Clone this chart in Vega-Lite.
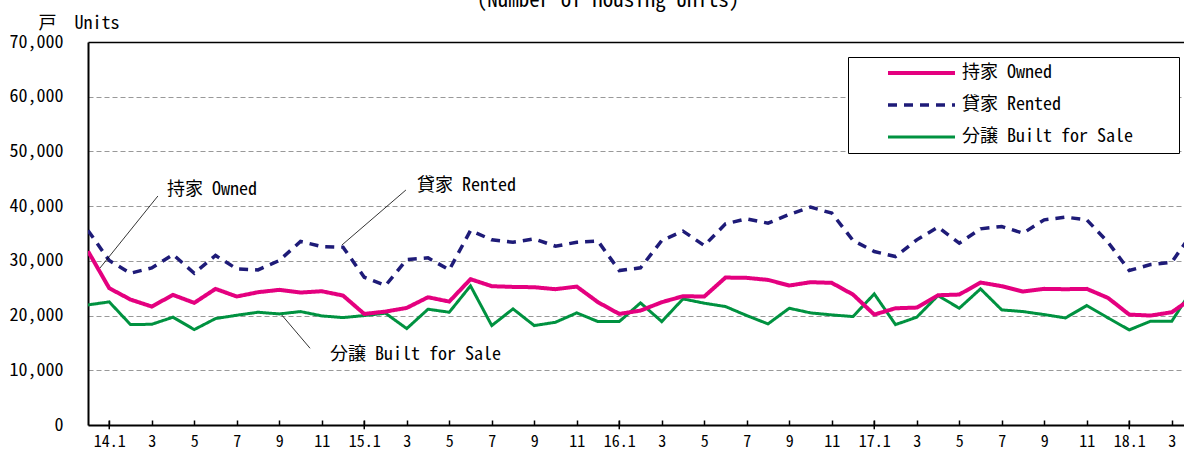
{
  "$schema": "https://vega.github.io/schema/vega-lite/v6.json",
  "width": 1096,
  "height": 383,
  "autosize": {"type": "none"},
  "padding": {"left": 88, "top": 42, "right": 0, "bottom": 25},
  "background": "white",
  "title": {"text": "(Number of Housing Units)", "frame": "group", "anchor": "middle", "offset": 0, "baseline": "alphabetic", "dx": -28, "dy": 14, "fontSize": 21, "fontWeight": 400, "color": "black", "font": "'Noto Sans Mono CJK JP', 'DejaVu Sans Mono', 'Noto Sans CJK JP', monospace"},
  "config": {
    "view": {"stroke": null},
    "font": "'Noto Sans Mono CJK JP', 'DejaVu Sans Mono', 'Noto Sans CJK JP', monospace"
  },
  "layer": [
    {
      "data": {"values": [
        {"i":0,"type":"分譲 Built for Sale","v":21950},{"i":1,"type":"分譲 Built for Sale","v":22500},{"i":2,"type":"分譲 Built for Sale","v":18350},{"i":3,"type":"分譲 Built for Sale","v":18410},{"i":4,"type":"分譲 Built for Sale","v":19700},{"i":5,"type":"分譲 Built for Sale","v":17440},{"i":6,"type":"分譲 Built for Sale","v":19450},{"i":7,"type":"分譲 Built for Sale","v":20060},{"i":8,"type":"分譲 Built for Sale","v":20610},{"i":9,"type":"分譲 Built for Sale","v":20300},{"i":10,"type":"分譲 Built for Sale","v":20730},{"i":11,"type":"分譲 Built for Sale","v":19940},{"i":12,"type":"分譲 Built for Sale","v":19630},{"i":13,"type":"分譲 Built for Sale","v":20000},{"i":14,"type":"分譲 Built for Sale","v":20430},{"i":15,"type":"分譲 Built for Sale","v":17620},{"i":16,"type":"分譲 Built for Sale","v":21160},{"i":17,"type":"分譲 Built for Sale","v":20610},{"i":18,"type":"分譲 Built for Sale","v":25430},{"i":19,"type":"分譲 Built for Sale","v":18170},{"i":20,"type":"分譲 Built for Sale","v":21220},{"i":21,"type":"分譲 Built for Sale","v":18170},{"i":22,"type":"分譲 Built for Sale","v":18780},{"i":23,"type":"分譲 Built for Sale","v":20490},{"i":24,"type":"分譲 Built for Sale","v":18900},{"i":25,"type":"分譲 Built for Sale","v":18900},{"i":26,"type":"分譲 Built for Sale","v":22320},{"i":27,"type":"分譲 Built for Sale","v":18900},{"i":28,"type":"分譲 Built for Sale","v":23050},{"i":29,"type":"分譲 Built for Sale","v":22260},{"i":30,"type":"分譲 Built for Sale","v":21650},{"i":31,"type":"分譲 Built for Sale","v":20000},{"i":32,"type":"分譲 Built for Sale","v":18480},{"i":33,"type":"分譲 Built for Sale","v":21340},{"i":34,"type":"分譲 Built for Sale","v":20490},{"i":35,"type":"分譲 Built for Sale","v":20120},{"i":36,"type":"分譲 Built for Sale","v":19820},{"i":37,"type":"分譲 Built for Sale","v":23960},{"i":38,"type":"分譲 Built for Sale","v":18350},{"i":39,"type":"分譲 Built for Sale","v":19700},{"i":40,"type":"分譲 Built for Sale","v":23660},{"i":41,"type":"分譲 Built for Sale","v":21340},{"i":42,"type":"分譲 Built for Sale","v":24880},{"i":43,"type":"分譲 Built for Sale","v":21040},{"i":44,"type":"分譲 Built for Sale","v":20730},{"i":45,"type":"分譲 Built for Sale","v":20180},{"i":46,"type":"分譲 Built for Sale","v":19570},{"i":47,"type":"分譲 Built for Sale","v":21830},{"i":48,"type":"分譲 Built for Sale","v":19570},{"i":49,"type":"分譲 Built for Sale","v":17380},{"i":50,"type":"分譲 Built for Sale","v":18960},{"i":51,"type":"分譲 Built for Sale","v":18960},{"i":52,"type":"分譲 Built for Sale","v":25000},
        {"i":0,"type":"貸家 Rented","v":35550},{"i":1,"type":"貸家 Rented","v":30060},{"i":2,"type":"貸家 Rented","v":27740},{"i":3,"type":"貸家 Rented","v":28720},{"i":4,"type":"貸家 Rented","v":31160},{"i":5,"type":"貸家 Rented","v":27740},{"i":6,"type":"貸家 Rented","v":30980},{"i":7,"type":"貸家 Rented","v":28540},{"i":8,"type":"貸家 Rented","v":28350},{"i":9,"type":"貸家 Rented","v":30060},{"i":10,"type":"貸家 Rented","v":33540},{"i":11,"type":"貸家 Rented","v":32620},{"i":12,"type":"貸家 Rented","v":32500},{"i":13,"type":"貸家 Rented","v":27010},{"i":14,"type":"貸家 Rented","v":25490},{"i":15,"type":"貸家 Rented","v":30240},{"i":16,"type":"貸家 Rented","v":30550},{"i":17,"type":"貸家 Rented","v":28350},{"i":18,"type":"貸家 Rented","v":35550},{"i":19,"type":"貸家 Rented","v":33840},{"i":20,"type":"貸家 Rented","v":33410},{"i":21,"type":"貸家 Rented","v":34020},{"i":22,"type":"貸家 Rented","v":32680},{"i":23,"type":"貸家 Rented","v":33410},{"i":24,"type":"貸家 Rented","v":33600},{"i":25,"type":"貸家 Rented","v":28230},{"i":26,"type":"貸家 Rented","v":28720},{"i":27,"type":"貸家 Rented","v":33720},{"i":28,"type":"貸家 Rented","v":35430},{"i":29,"type":"貸家 Rented","v":32800},{"i":30,"type":"貸家 Rented","v":36770},{"i":31,"type":"貸家 Rented","v":37680},{"i":32,"type":"貸家 Rented","v":36890},{"i":33,"type":"貸家 Rented","v":38480},{"i":34,"type":"貸家 Rented","v":39820},{"i":35,"type":"貸家 Rented","v":38720},{"i":36,"type":"貸家 Rented","v":33720},{"i":37,"type":"貸家 Rented","v":31710},{"i":38,"type":"貸家 Rented","v":30790},{"i":39,"type":"貸家 Rented","v":33840},{"i":40,"type":"貸家 Rented","v":36160},{"i":41,"type":"貸家 Rented","v":33230},{"i":42,"type":"貸家 Rented","v":35850},{"i":43,"type":"貸家 Rented","v":36280},{"i":44,"type":"貸家 Rented","v":35060},{"i":45,"type":"貸家 Rented","v":37500},{"i":46,"type":"貸家 Rented","v":37990},{"i":47,"type":"貸家 Rented","v":37500},{"i":48,"type":"貸家 Rented","v":33410},{"i":49,"type":"貸家 Rented","v":28230},{"i":50,"type":"貸家 Rented","v":29330},{"i":51,"type":"貸家 Rented","v":29760},{"i":52,"type":"貸家 Rented","v":35300},
        {"i":0,"type":"持家 Owned","v":31770},{"i":1,"type":"持家 Owned","v":25000},{"i":2,"type":"持家 Owned","v":22930},{"i":3,"type":"持家 Owned","v":21650},{"i":4,"type":"持家 Owned","v":23780},{"i":5,"type":"持家 Owned","v":22320},{"i":6,"type":"持家 Owned","v":24880},{"i":7,"type":"持家 Owned","v":23480},{"i":8,"type":"持家 Owned","v":24270},{"i":9,"type":"持家 Owned","v":24700},{"i":10,"type":"持家 Owned","v":24210},{"i":11,"type":"持家 Owned","v":24450},{"i":12,"type":"持家 Owned","v":23660},{"i":13,"type":"持家 Owned","v":20300},{"i":14,"type":"持家 Owned","v":20730},{"i":15,"type":"持家 Owned","v":21400},{"i":16,"type":"持家 Owned","v":23350},{"i":17,"type":"持家 Owned","v":22560},{"i":18,"type":"持家 Owned","v":26650},{"i":19,"type":"持家 Owned","v":25370},{"i":20,"type":"持家 Owned","v":25240},{"i":21,"type":"持家 Owned","v":25180},{"i":22,"type":"持家 Owned","v":24820},{"i":23,"type":"持家 Owned","v":25300},{"i":24,"type":"持家 Owned","v":22440},{"i":25,"type":"持家 Owned","v":20300},{"i":26,"type":"持家 Owned","v":20910},{"i":27,"type":"持家 Owned","v":22440},{"i":28,"type":"持家 Owned","v":23540},{"i":29,"type":"持家 Owned","v":23480},{"i":30,"type":"持家 Owned","v":26950},{"i":31,"type":"持家 Owned","v":26890},{"i":32,"type":"持家 Owned","v":26520},{"i":33,"type":"持家 Owned","v":25490},{"i":34,"type":"持家 Owned","v":26100},{"i":35,"type":"持家 Owned","v":25980},{"i":36,"type":"持家 Owned","v":23840},{"i":37,"type":"持家 Owned","v":20180},{"i":38,"type":"持家 Owned","v":21340},{"i":39,"type":"持家 Owned","v":21460},{"i":40,"type":"持家 Owned","v":23720},{"i":41,"type":"持家 Owned","v":23840},{"i":42,"type":"持家 Owned","v":26040},{"i":43,"type":"持家 Owned","v":25370},{"i":44,"type":"持家 Owned","v":24390},{"i":45,"type":"持家 Owned","v":24880},{"i":46,"type":"持家 Owned","v":24820},{"i":47,"type":"持家 Owned","v":24880},{"i":48,"type":"持家 Owned","v":23230},{"i":49,"type":"持家 Owned","v":20180},{"i":50,"type":"持家 Owned","v":20000},{"i":51,"type":"持家 Owned","v":20610},{"i":52,"type":"持家 Owned","v":23300}
      ]},
      "mark": {"type": "line", "clip": true},
      "encoding": {
        "x": {
          "field": "i", "type": "quantitative",
          "scale": {"domain": [0, 51.576], "nice": false, "zero": false},
          "axis": {
            "title": null, "grid": false,
            "values": [1,2,3,4,5,6,7,8,9,10,11,12,13,14,15,16,17,18,19,20,21,22,23,24,25,26,27,28,29,30,31,32,33,34,35,36,37,38,39,40,41,42,43,44,45,46,47,48,49,50,51],
            "labelExpr": "datum.value % 2 == 1 ? ((datum.value - 1) % 12 == 0 ? (14 + floor((datum.value - 1) / 12)) + '.1' : '' + ((datum.value - 1) % 12 + 1)) : ''",
            "tickSize": -5, "tickWidth": 1.5, "tickColor": "black",
            "domainColor": "black", "domainWidth": 2,
            "labelFontSize": 16, "labelColor": "black", "labelPadding": 13,
            "labelOverlap": false, "labelFlush": false, "labelBound": false
          }
        },
        "y": {
          "field": "v", "type": "quantitative",
          "scale": {"domain": [0, 70000], "nice": false},
          "axis": {
            "values": [0,10000,20000,30000,40000,50000,60000,70000],
            "labelExpr": "format(datum.value, ',d')",
            "ticks": false,
            "domainColor": "black", "domainWidth": 2,
            "labelFontSize": 18, "labelColor": "black", "labelPadding": 25,
            "grid": true,
            "gridColor": {"condition": {"test": "datum.value === 70000", "value": "black"}, "value": "#999999"},
            "gridDash": {"condition": {"test": "datum.value === 70000", "value": []}, "value": [5, 3]},
            "gridWidth": {"condition": {"test": "datum.value === 70000", "value": 1.6}, "value": 1},
            "title": "戸　Units", "titleAngle": 0, "titleAlign": "left", "titleBaseline": "alphabetic",
            "titleX": -50, "titleY": -14, "titleFontSize": 18, "titleFontWeight": "normal", "titleColor": "black"
          }
        },
        "color": {
          "field": "type", "type": "nominal",
          "scale": {"domain": ["持家 Owned", "貸家 Rented", "分譲 Built for Sale"], "range": ["#E4007F", "#1E1B78", "#009240"]},
          "legend": {"title": null, "orient": "none", "legendX": 760, "legendY": 15, "strokeColor": "black", "fillColor": "white", "padding": 7, "rowPadding": 14, "clipHeight": 18, "symbolType": "stroke", "symbolSize": 4489, "symbolOffset": 31, "labelOffset": 5, "labelFontSize": 18, "labelColor": "black", "labelLimit": 400, "labelExpr": "datum.label + '\u2800\u2800\u2800'"}
        },
        "strokeDash": {
          "field": "type", "type": "nominal",
          "scale": {"domain": ["持家 Owned", "貸家 Rented", "分譲 Built for Sale"], "range": [[1, 0], [9, 7], [1, 0]]},
          "legend": {"title": null, "orient": "none", "legendX": 760, "legendY": 15, "strokeColor": "black", "fillColor": "white", "padding": 7, "rowPadding": 14, "clipHeight": 18, "symbolType": "stroke", "symbolSize": 4489, "symbolOffset": 31, "labelOffset": 5, "labelFontSize": 18, "labelColor": "black", "labelLimit": 400, "labelExpr": "datum.label + '\u2800\u2800\u2800'"}
        },
        "strokeWidth": {
          "field": "type", "type": "nominal",
          "scale": {"domain": ["持家 Owned", "貸家 Rented", "分譲 Built for Sale"], "range": [4, 3, 1.2]},
          "legend": {"title": null, "orient": "none", "legendX": 760, "legendY": 15, "strokeColor": "black", "fillColor": "white", "padding": 7, "rowPadding": 14, "clipHeight": 18, "symbolType": "stroke", "symbolSize": 4489, "symbolOffset": 31, "labelOffset": 5, "labelFontSize": 18, "labelColor": "black", "labelLimit": 400, "labelExpr": "datum.label + '\u2800\u2800\u2800'"}
        }
      }
    },
    {
      "data": {"values": [{"yt": 1}, {"yt": 13}, {"yt": 25}, {"yt": 37}, {"yt": 49}]},
      "mark": {"type": "rule", "color": "black", "strokeWidth": 1.5},
      "encoding": {
        "x": {"field": "yt", "type": "quantitative"},
        "y": {"datum": -780},
        "y2": {"datum": 780}
      }
    },
    {
      "data": {"values": [
        {"x1": 3.29, "y1": 41855, "x2": 0.565, "y2": 28695},
        {"x1": 14.96, "y1": 42950, "x2": 11.95, "y2": 32900},
        {"x1": 9.12, "y1": 20100, "x2": 10.45, "y2": 14020}
      ]},
      "mark": {"type": "rule", "color": "black", "strokeWidth": 0.8},
      "encoding": {
        "x": {"field": "x1", "type": "quantitative"},
        "y": {"field": "y1", "type": "quantitative"},
        "x2": {"field": "x2"},
        "y2": {"field": "y2"}
      }
    },
    {
      "data": {"values": [
        {"tx": 3.72, "ty": 42040, "t": "持家 Owned"},
        {"tx": 15.48, "ty": 42770, "t": "貸家 Rented"},
        {"tx": 11.39, "ty": 11880, "t": "分譲 Built for Sale"}
      ]},
      "mark": {"type": "text", "align": "left", "baseline": "alphabetic", "fontSize": 18, "color": "black"},
      "encoding": {
        "x": {"field": "tx", "type": "quantitative"},
        "y": {"field": "ty", "type": "quantitative"},
        "text": {"field": "t"}
      }
    }
  ]
}
